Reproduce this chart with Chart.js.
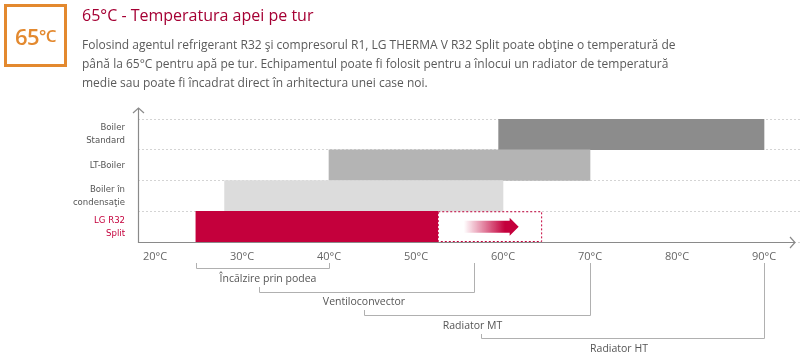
<!DOCTYPE html>
<html>
<head>
<meta charset="utf-8">
<script src="https://cdn.jsdelivr.net/npm/chart.js@4/dist/chart.umd.min.js"></script>
<style>
html,body{margin:0;padding:0;background:#fff;width:800px;height:356px;overflow:hidden;}
#wrap{position:relative;width:800px;height:356px;font-family:"Open Sans",sans-serif;}
#c{position:absolute;left:0;top:0;}
#badge{position:absolute;left:4px;top:4px;width:57px;height:57px;border:3px solid #e3892f;color:#e3892f;
  font-size:22px;font-weight:600;display:flex;align-items:center;justify-content:center;letter-spacing:-0.5px;}
#badge small{font-size:17px;font-weight:600;}
#title{position:absolute;left:82px;top:4px;font-size:16px;font-weight:500;color:#a50034;white-space:nowrap;}
#body{position:absolute;left:82px;top:36px;font-size:12px;line-height:18.8px;color:#5a5a5a;width:640px;white-space:nowrap;}
</style>
</head>
<body>
<div id="wrap">
<canvas id="c" width="800" height="356"></canvas>
<div id="badge">65<small>°C</small></div>
<div id="title">65°C - Temperatura apei pe tur</div>
<div id="body">Folosind agentul refrigerant R32 şi compresorul R1, LG THERMA V R32 Split poate obţine o temperatură de<br>până la 65°C pentru apă pe tur. Echipamentul poate fi folosit pentru a înlocui un radiator de temperatură<br>medie sau poate fi încadrat direct în arhitectura unei case noi.</div>
</div>
<script>
// ---- data ----
const categories = [['Boiler','Standard'], 'LT-Boiler', ['Boiler în','condensaţie'], ['LG R32','Split']];
const rangeStart = [59.5, 40, 28, 24.7];
const rangeEnd   = [90, 70, 60, 52.5];
const barColors  = ['#8c8c8c', '#b4b4b4', '#dcdcdc', '#c4003c'];
const extStart   = [null, null, null, 52.5];
const extEnd     = [null, null, null, 64.5];
const arrowRange = [55.5, 61.8];
const xTicks     = [20, 30, 40, 50, 60, 70, 80, 90];
const appNames   = ['Încălzire prin podea', 'Ventiloconvector', 'Radiator MT', 'Radiator HT'];
const appStart   = [24.7, 32, 44, 57.5];
const appEnd     = [40, 56.7, 70, 90];

const RED = '#c4003c';
const xMin = 20 - 17/8.7, xMax = 20 + 645/8.7;

const deco = {
  id: 'deco',
  afterDatasetsDraw(chart) {
    const ctx = chart.ctx, xs = chart.scales.x, ys = chart.scales.y, ca = chart.chartArea;
    const rowH = (ca.bottom - ca.top) / categories.length;
    ctx.save();
    // dotted extension box
    extStart.forEach((s, i) => {
      if (s == null) return;
      const x1 = xs.getPixelForValue(s), x2 = xs.getPixelForValue(extEnd[i]);
      const yc = ys.getPixelForValue(i);
      ctx.strokeStyle = RED; ctx.lineWidth = 1; ctx.setLineDash([2, 2]);
      ctx.strokeRect(x1 + 0.5, yc - rowH/2 + 0.5, x2 - x1 - 1, rowH - 1);
      ctx.setLineDash([]);
      // gradient arrow
      const a1 = xs.getPixelForValue(arrowRange[0]), a2 = xs.getPixelForValue(arrowRange[1]);
      const g = ctx.createLinearGradient(a1, 0, a2, 0);
      g.addColorStop(0, 'rgba(196,0,60,0)');
      g.addColorStop(0.75, 'rgba(196,0,60,1)');
      g.addColorStop(1, 'rgba(196,0,60,1)');
      ctx.fillStyle = g;
      const hx = a2 - 9;
      ctx.beginPath();
      ctx.moveTo(a1, yc - 6); ctx.lineTo(hx, yc - 6); ctx.lineTo(hx, yc - 9);
      ctx.lineTo(a2, yc); ctx.lineTo(hx, yc + 9); ctx.lineTo(hx, yc + 6);
      ctx.lineTo(a1, yc + 6); ctx.closePath(); ctx.fill();
    });
    // axes
    ctx.strokeStyle = '#8a8a8a'; ctx.lineWidth = 1.2;
    ctx.beginPath();
    ctx.moveTo(ca.left + 0.5, ca.top - 11); ctx.lineTo(ca.left + 0.5, ca.bottom + 0.5);
    ctx.lineTo(795, ca.bottom + 0.5);
    ctx.stroke();
    ctx.beginPath();
    ctx.moveTo(ca.left - 5, ca.top - 6); ctx.lineTo(ca.left + 0.5, ca.top - 11); ctx.lineTo(ca.left + 6, ca.top - 6);
    ctx.moveTo(790, ca.bottom - 5); ctx.lineTo(795, ca.bottom + 0.5); ctx.lineTo(790, ca.bottom + 6);
    ctx.stroke();
    // brackets
    const levels = [268, 292, 315, 338];
    const leftTop = [263, 287, 310, 334];
    const labelY = [279, 302, 326, 349];
    const labelShift = [5, -3, -5, -4];
    ctx.strokeStyle = '#b0b0b0'; ctx.lineWidth = 1;
    ctx.font = '10.5px "Open Sans", sans-serif';
    ctx.fillStyle = '#555'; ctx.textAlign = 'center'; ctx.textBaseline = 'middle';
    appNames.forEach((n, i) => {
      const x1 = Math.round(xs.getPixelForValue(appStart[i])) + 0.5;
      const x2 = Math.round(xs.getPixelForValue(appEnd[i])) + 0.5;
      const y = levels[i] + 0.5;
      ctx.beginPath();
      ctx.moveTo(x1, leftTop[i]); ctx.lineTo(x1, y); ctx.lineTo(x2, y); ctx.lineTo(x2, 263);
      ctx.stroke();
      ctx.fillText(n, (x1 + x2) / 2 + labelShift[i], labelY[i]);
    });
    ctx.restore();
  }
};

new Chart(document.getElementById('c'), {
  type: 'bar',
  data: {
    labels: categories,
    datasets: [
      { data: rangeStart.map((s, i) => [s, rangeEnd[i]]), backgroundColor: barColors,
        barPercentage: 1, categoryPercentage: 1, grouped: false, borderSkipped: false, borderWidth: 0 },
      { data: extStart.map((s, i) => s == null ? null : [s, extEnd[i]]), backgroundColor: 'rgba(0,0,0,0)',
        barPercentage: 1, categoryPercentage: 1, grouped: false, borderWidth: 0 }
    ]
  },
  options: {
    indexAxis: 'y',
    responsive: false,
    animation: false,
    devicePixelRatio: 1,
    layout: { padding: { top: 119, left: 0, right: 0, bottom: 0 } },
    plugins: { legend: { display: false }, tooltip: { enabled: false } },
    scales: {
      x: {
        type: 'linear', min: xMin, max: xMax,
        afterBuildTicks: s => { s.ticks = xTicks.map(v => ({ value: v })); },
        afterFit: s => { s.height = 114; },
        grid: { display: false, drawTicks: false },
        border: { display: false },
        ticks: { padding: 8, color: '#666', font: { family: 'Open Sans', size: 11 },
                 callback: v => v + '°C', maxRotation: 0, autoSkip: false }
      },
      y: {
        afterFit: s => { s.width = 138; },
        grid: { offset: true, drawTicks: false, color: '#d4d4d4', lineWidth: 1 },
        border: { display: false, dash: [2, 2] },
        ticks: { padding: 13, font: { family: '"DejaVu Sans Condensed", "Open Sans", sans-serif', size: 9.5, lineHeight: 1.35 },
                 color: c => c.index === 3 ? RED : '#555' }
      }
    }
  },
  plugins: [deco]
});
</script>
</body>
</html>
